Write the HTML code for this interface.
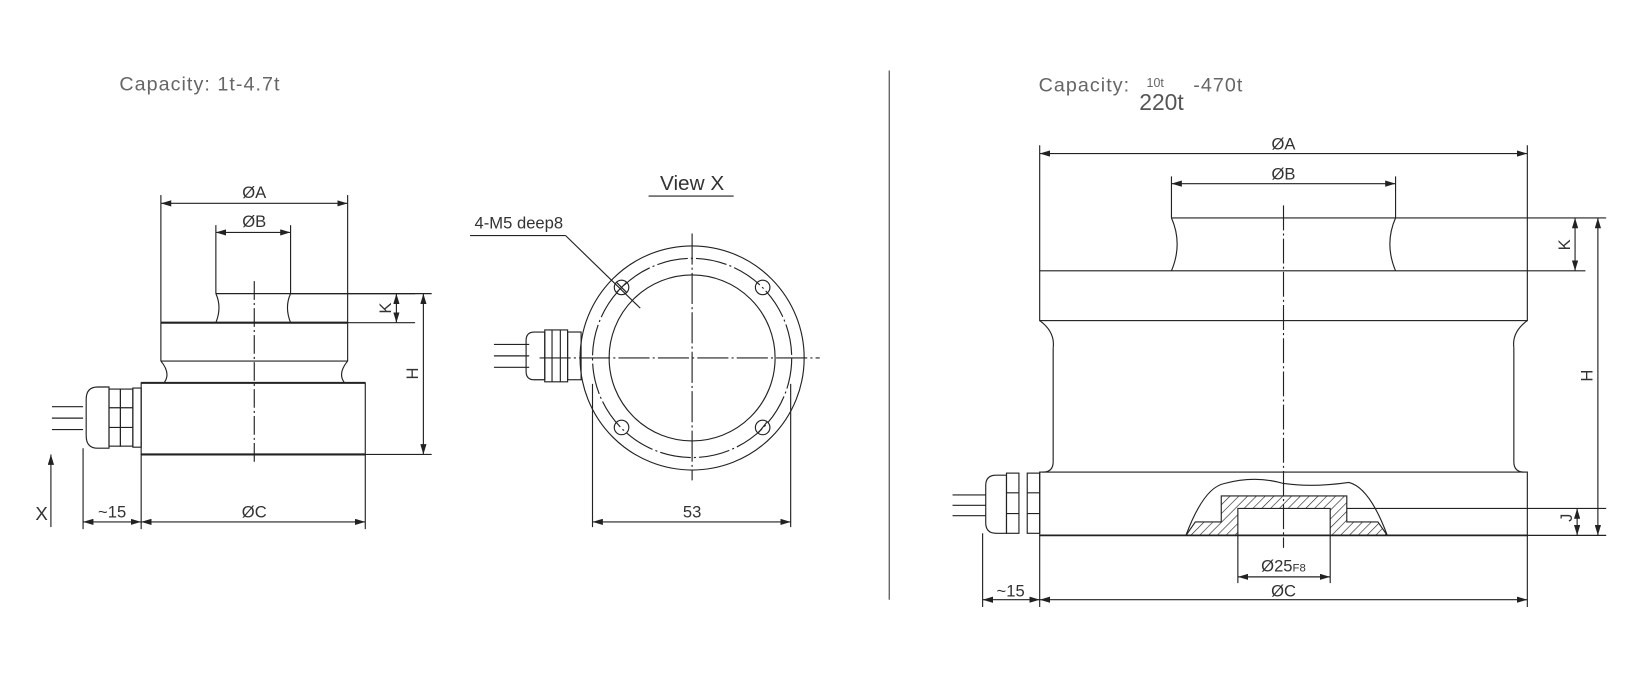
<!DOCTYPE html>
<html><head><meta charset="utf-8"><style>
html,body{margin:0;padding:0;background:#fff;}
svg{display:block}
text{font-family:"Liberation Sans",sans-serif;fill:#333}
</style></head><body>
<svg width="1627" height="677" viewBox="0 0 1568 652.5" xmlns="http://www.w3.org/2000/svg">
<defs>
<marker id="a" viewBox="0 0 10 6" refX="10" refY="3" markerWidth="10" markerHeight="6" orient="auto-start-reverse" markerUnits="userSpaceOnUse"><path d="M0,0 L10,3 L0,6 z" fill="#222"/></marker>
<pattern id="h" width="6" height="6" patternUnits="userSpaceOnUse" patternTransform="rotate(45)"><line x1="0" y1="0" x2="0" y2="6" stroke="#222" stroke-width="1.2"/></pattern>
</defs>
<g fill="none" stroke="#222" stroke-width="1.1">
<!-- LEFT DRAWING -->
<line x1="155" y1="196" x2="335" y2="196" marker-start="url(#a)" marker-end="url(#a)"/>
<line x1="155" y1="188" x2="155" y2="311"/><line x1="335" y1="188" x2="335" y2="311"/>
<line x1="208" y1="224" x2="280" y2="224" marker-start="url(#a)" marker-end="url(#a)"/>
<line x1="208" y1="217" x2="208" y2="283"/><line x1="280" y1="217" x2="280" y2="283"/>
<path d="M208,283 L280,283 M208,283 Q214,296 208,311 M280,283 Q274,296 280,311"/>
<line x1="155" y1="311" x2="335" y2="311" stroke-width="2"/>
<path d="M155,311 L155,348 M335,311 L335,348 M155,348 L335,348"/>
<path d="M155,348 Q165,360 158,369 M335,348 Q325,360 332,369"/>
<rect x="136" y="369" width="216" height="69"/>
<line x1="136" y1="369" x2="352" y2="369" stroke-width="2"/>
<line x1="136" y1="438" x2="352" y2="438" stroke-width="2"/>
<line x1="280" y1="283" x2="400" y2="283"/><line x1="335" y1="311" x2="400" y2="311"/>
<line x1="382" y1="283" x2="382" y2="311" marker-start="url(#a)" marker-end="url(#a)"/>
<line x1="280" y1="283" x2="416" y2="283"/><line x1="352" y1="438" x2="416" y2="438"/>
<line x1="408" y1="283" x2="408" y2="438" marker-start="url(#a)" marker-end="url(#a)"/>
<line x1="245" y1="271" x2="245" y2="445" stroke-dasharray="18,3,2,3"/>
<path d="M50,392 L80,392 M50,403 L80,403 M50,414 L80,414"/>
<path d="M94,373 L105,373 L105,432 L94,432 Q83,432 83,420 L83,385 Q83,373 94,373 z"/>
<rect x="105" y="375" width="11" height="55"/><rect x="116" y="375" width="12" height="55"/>
<path d="M105,393 L128,393 M105,412 L128,412"/><rect x="128" y="374" width="8" height="57"/>
<line x1="80" y1="432" x2="80" y2="510"/><line x1="136" y1="438" x2="136" y2="510"/><line x1="352" y1="438" x2="352" y2="510"/>
<line x1="80" y1="503" x2="136" y2="503" marker-start="url(#a)" marker-end="url(#a)"/>
<line x1="136" y1="503" x2="352" y2="503" marker-start="url(#a)" marker-end="url(#a)"/>
<line x1="49" y1="508" x2="49" y2="438" marker-end="url(#a)"/>
<!-- MIDDLE VIEW X -->
<circle cx="667" cy="345" r="108"/>
<circle cx="667" cy="345" r="96" stroke-dasharray="30,3,2,3"/>
<circle cx="667" cy="345" r="80"/>
<circle cx="599" cy="277" r="7"/><circle cx="735" cy="277" r="7"/><circle cx="599" cy="412" r="7"/><circle cx="735" cy="412" r="7"/>
<path d="M594,272 L604,282 M604,272 L594,282 M731,417 L739,407"/>
<line x1="520" y1="345" x2="790" y2="345" stroke-dasharray="30,3,2,3"/>
<line x1="667" y1="225" x2="667" y2="463" stroke-dasharray="30,3,2,3"/>
<line x1="625" y1="189" x2="707" y2="189"/>
<line x1="453" y1="227" x2="545" y2="227"/><line x1="545" y1="227" x2="617" y2="297"/>
<path d="M476,332 L510,332 M476,343 L510,343 M476,354 L510,354"/>
<path d="M515,320 L525,320 L525,366 L515,366 Q507,366 507,358 L507,328 Q507,320 515,320 z"/>
<rect x="525" y="318" width="22" height="50"/><path d="M532,318 L532,368 M540,318 L540,368"/>
<rect x="547" y="320" width="13" height="46"/>
<line x1="571" y1="370" x2="571" y2="508"/><line x1="762" y1="370" x2="762" y2="508"/>
<line x1="571" y1="503" x2="762" y2="503" marker-start="url(#a)" marker-end="url(#a)"/>
<!-- separator -->
<line x1="857" y1="68" x2="857" y2="578" stroke="#444"/>
<!-- RIGHT DRAWING -->
<line x1="1002" y1="148" x2="1472" y2="148" marker-start="url(#a)" marker-end="url(#a)"/>
<line x1="1002" y1="140" x2="1002" y2="261"/><line x1="1472" y1="140" x2="1472" y2="261"/>
<line x1="1129" y1="177" x2="1345" y2="177" marker-start="url(#a)" marker-end="url(#a)"/>
<line x1="1129" y1="170" x2="1129" y2="210"/><line x1="1345" y1="170" x2="1345" y2="210"/>
<path d="M1129,210 L1345,210 M1129,210 Q1140,235 1129,261 M1345,210 Q1334,235 1345,261"/>
<rect x="1002" y="261" width="470" height="48"/>
<path d="M1002,309 Q1017,320 1015,335 M1472,309 Q1457,320 1459,335"/>
<path d="M1015,335 L1015,445 Q1015,455 1005,455 M1459,335 L1459,445 Q1459,455 1469,455"/>
<rect x="1002" y="455" width="470" height="61"/>
<line x1="1002" y1="516" x2="1472" y2="516" stroke-width="1.8"/>
<path d="M1143,516 Q1160,470 1180,466 Q1210,458 1237,466 Q1265,470 1300,465 Q1320,470 1337,516" />
<path d="M1143,516 L1337,516 L1328,503 L1298,503 L1298,478 L1177,478 L1177,503 L1152,503 z M1193,516 L1193,490 L1282,490 L1282,516 z" fill="url(#h)" fill-rule="evenodd"/>
<line x1="1298" y1="490" x2="1548" y2="490"/><line x1="1472" y1="516" x2="1548" y2="516"/>
<line x1="1520" y1="490" x2="1520" y2="516" marker-start="url(#a)" marker-end="url(#a)"/>
<line x1="1345" y1="210" x2="1548" y2="210"/><line x1="1472" y1="261" x2="1528" y2="261"/>
<line x1="1518" y1="210" x2="1518" y2="261" marker-start="url(#a)" marker-end="url(#a)"/>
<line x1="1540" y1="210" x2="1540" y2="516" marker-start="url(#a)" marker-end="url(#a)"/>
<line x1="1193" y1="516" x2="1193" y2="562"/><line x1="1282" y1="516" x2="1282" y2="562"/>
<line x1="1193" y1="556" x2="1282" y2="556" marker-start="url(#a)" marker-end="url(#a)"/>
<line x1="1237" y1="198" x2="1237" y2="528" stroke-dasharray="24,3,2,3"/>
<path d="M918,477 L950,477 M918,487 L950,487 M918,497 L950,497"/>
<path d="M960,458 L970,458 L970,514 L960,514 Q950,514 950,504 L950,468 Q950,458 960,458 z"/>
<rect x="970" y="456" width="12" height="58"/><rect x="990" y="456" width="12" height="58"/>
<path d="M970,475 L982,475 M970,495 L982,495 M990,475 L1002,475 M990,495 L1002,495"/>
<line x1="947" y1="514" x2="947" y2="585"/><line x1="1002" y1="516" x2="1002" y2="585"/><line x1="1472" y1="516" x2="1472" y2="585"/>
<line x1="947" y1="578" x2="1002" y2="578" marker-start="url(#a)" marker-end="url(#a)"/>
<line x1="1002" y1="578" x2="1472" y2="578" marker-start="url(#a)" marker-end="url(#a)"/>
</g>
<g font-size="16" text-anchor="middle">
<text x="245" y="191">ØA</text><text x="245" y="219">ØB</text>
<text x="245" y="499">ØC</text><text x="108" y="499">~15</text>
<text x="40" y="501" font-size="18">X</text>
<text transform="translate(377,297) rotate(-90)">K</text>
<text transform="translate(403,360) rotate(-90)">H</text>
<text x="667" y="183" font-size="20" fill="#555">View X</text>
<text x="500" y="220" font-size="16">4-M5 deep8</text>
<text x="667" y="499">53</text>
<text x="1237" y="144">ØA</text><text x="1237" y="173">ØB</text>
<text transform="translate(1513,236) rotate(-90)">K</text>
<text transform="translate(1535,362) rotate(-90)">H</text>
<text transform="translate(1515,499) rotate(-90)">J</text>
<text x="1237" y="551">Ø25<tspan font-size="11">F8</tspan></text>
<text x="1237" y="575">ØC</text><text x="974" y="575">~15</text>
</g>
<g font-size="19" fill="#666">
<text x="115" y="87" style="fill:#666;letter-spacing:1px">Capacity: 1t-4.7t</text>
<text x="1001" y="88" style="fill:#666;letter-spacing:1px">Capacity:</text>
<text x="1105" y="84" font-size="12" style="fill:#666">10t</text>
<text x="1150" y="88" style="fill:#666;letter-spacing:1px">-470t</text>
<text x="1098" y="106" font-size="22" style="fill:#555">220t</text>
</g>
</svg>
</body></html>
